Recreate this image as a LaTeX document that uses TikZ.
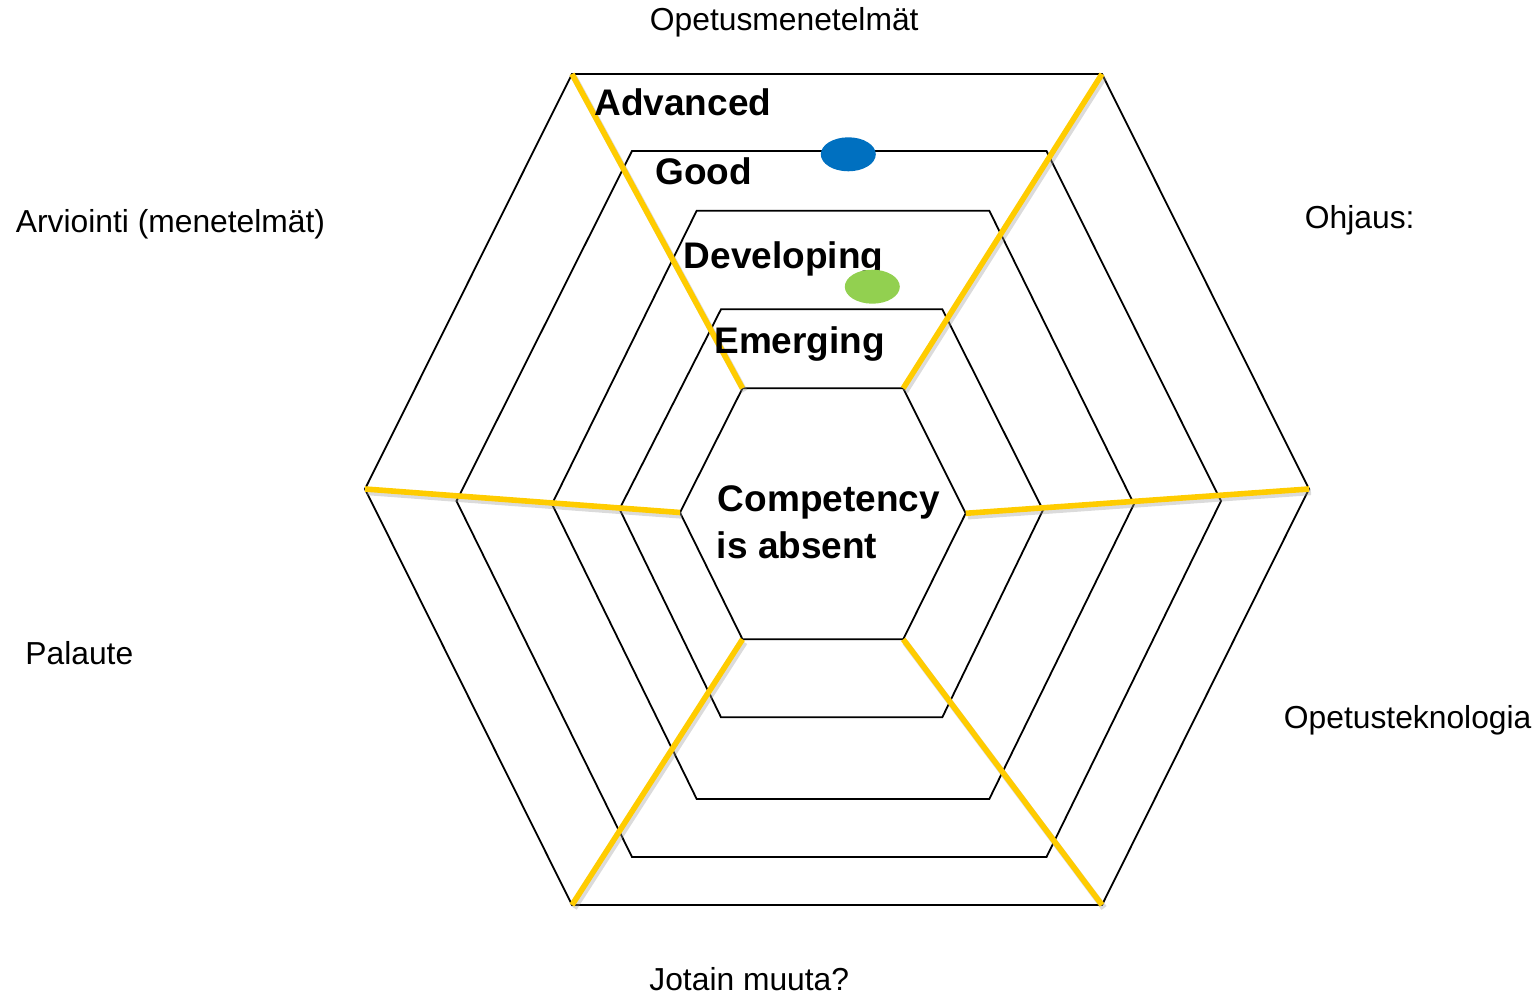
\documentclass[tikz,border=0pt]{standalone}
\usepackage{fontspec}
\setmainfont{Liberation Sans}
\definecolor{spokeyellow}{HTML}{FFCC00}
\definecolor{dotblue}{HTML}{0070C0}
\definecolor{dotgreen}{HTML}{92D050}
\tikzset{
  hexline/.style={draw=black, line width=0.9pt, line join=miter},
  spoke/.style={draw=spokeyellow, line width=2.8pt},
  spokeshadow/.style={draw=black!40, opacity=0.35, line width=3.2pt},
  levellabel/.style={anchor=base west, inner sep=0pt, font=\fontsize{18.5}{22}\selectfont\bfseries},
  axislabel/.style={anchor=base west, inner sep=0pt, font=\fontsize{15.9}{18}\selectfont},
  marker/.style={draw=none}
}
\begin{document}
\begin{tikzpicture}[x=0.5pt,y=-0.5pt]
\useasboundingbox (0,0) rectangle (1539,995);
% hexagon vertices
\coordinate (aTL) at (572,74);    \coordinate (aTR) at (1102,74);
\coordinate (aR)  at (1309,489);  \coordinate (aBR) at (1102,905);
\coordinate (aBL) at (572,905);   \coordinate (aL)  at (365,489);
\coordinate (bTL) at (632,151);   \coordinate (bTR) at (1046.5,151);
\coordinate (bR)  at (1221,501);  \coordinate (bBR) at (1046.5,857);
\coordinate (bBL) at (632,857);   \coordinate (bL)  at (456.5,501);
\coordinate (cTL) at (696.7,210.7); \coordinate (cTR) at (989.3,210.7);
\coordinate (cR)  at (1134,504);  \coordinate (cBR) at (989.3,799);
\coordinate (cBL) at (696.7,799); \coordinate (cL)  at (552,504);
\coordinate (dTL) at (721,309.3); \coordinate (dTR) at (942.3,309.3);
\coordinate (dR)  at (1043,510);  \coordinate (dBR) at (942.3,717.3);
\coordinate (dBL) at (721,717.3); \coordinate (dL)  at (619.5,509);
\coordinate (eTL) at (742.5,388.3); \coordinate (eTR) at (903.2,388.3);
\coordinate (eR)  at (965.7,513.3); \coordinate (eBR) at (903.2,639.3);
\coordinate (eBL) at (742.5,639.3); \coordinate (eL)  at (680,512.5);
% hexagons
\foreach \h in {a,b,c,d,e}{
  \path[hexline] (\h TL) -- (\h TR) -- (\h R) -- (\h BR) -- (\h BL) -- (\h L) -- cycle;
}
% spoke shadows
\foreach \o/\i in {aTL/eTL,aTR/eTR,aL/eL,aR/eR,aBL/eBL,aBR/eBR}{
  \path[spokeshadow] ([shift={(2,3)}]\o) -- ([shift={(2,3)}]\i);
}
% spokes
\foreach \o/\i in {aTL/eTL,aTR/eTR,aL/eL,aR/eR,aBL/eBL,aBR/eBR}{
  \path[spoke] (\o) -- (\i);
}
% level labels
\node[levellabel] (adv) at (594,115.7) {Advanced};
\node[levellabel] (good) at (655,184.3) {Good};
\node[levellabel] (dev) at (683.5,268.3) {Developing};
\node[levellabel] (emer) at (714,353.3) {Emerging};
\node[levellabel] (comp1) at (717.5,511.7) {Competency};
\node[levellabel] (comp2) at (716.5,558.3) {is absent};
% axis labels
\node[axislabel] (top) at (649.5,30.7) {Opetusmenetelmät};
\node[axislabel] (ohj) at (1304.5,228) {Ohjaus:};
\node[axislabel] (arv) at (15.5,232.7) {Arviointi (menetelmät)};
\node[axislabel] (pal) at (25,664) {Palaute};
\node[axislabel] (tek) at (1283.5,728.3) {Opetusteknologia};
\node[axislabel] (muu) at (649,990) {Jotain muuta?};
% markers
\fill[dotblue] (848.3,154.3) ellipse [x radius=27.5, y radius=17];
\fill[dotgreen] (872.3,286.7) ellipse [x radius=27.5, y radius=17];
\end{tikzpicture}
\end{document}
